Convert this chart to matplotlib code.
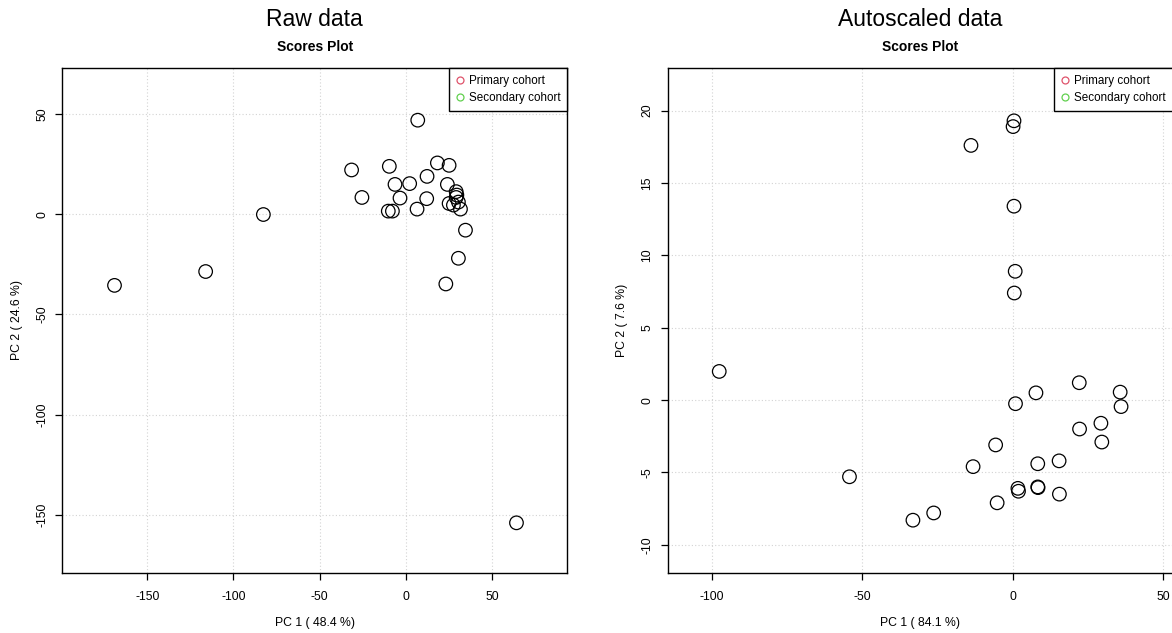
import matplotlib
matplotlib.use("Agg")
import matplotlib.pyplot as plt
from matplotlib.lines import Line2D

plt.rcParams['font.family'] = ['Liberation Sans', 'DejaVu Sans']

# ---- data: Raw data PCA scores ----
raw_pc1 = [-169.0, -116.1, -82.6, 7.0, -31.4, -9.5, 18.4, 25.2, 12.4, -6.2, 2.3,
           24.2, -25.4, -3.3, 12.2, 29.3, 29.7, 29.3, 30.6, 25.2, 27.7, 31.8,
           -10.1, -7.7, 6.6, 34.7, 30.6, 23.3, 64.3]
raw_pc2 = [-35.5, -28.6, -0.2, 46.8, 22.0, 23.8, 25.5, 24.3, 18.8, 14.8, 15.2,
           14.8, 8.3, 8.0, 7.7, 11.2, 9.5, 8.3, 6.0, 5.3, 4.5, 2.5,
           1.5, 1.5, 2.5, -8.0, -22.0, -34.8, -153.8]

# ---- data: Autoscaled PCA scores ----
auto_pc1 = [0.4, 0.1, -13.9, 0.4, 0.8, 0.5, -97.6, -54.3, -33.2, -26.3, -13.2,
            -5.7, -5.2, 0.9, 7.7, 1.7, 1.9, 8.3, 8.3, 8.4, 15.4, 15.5, 22.1,
            22.2, 29.3, 29.6, 35.7, 36.0]
auto_pc2 = [19.3, 18.9, 17.6, 13.4, 8.9, 7.4, 1.98, -5.3, -8.3, -7.8, -4.6,
            -3.1, -7.1, -0.25, 0.5, -6.1, -6.3, -4.4, -6.0, -6.05, -4.2, -6.5, 1.2,
            -2.0, -1.6, -2.9, 0.55, -0.45]

raw_xticks = [-150, -100, -50, 0, 50]
raw_yticks = [50, 0, -50, -100, -150]
auto_xticks = [-100, -50, 0, 50]
auto_yticks = [20, 15, 10, 5, 0, -5, -10]

legend_labels = ["Primary cohort", "Secondary cohort"]
legend_colors = ["#DF536B", "#61D04F"]

W, H = 1172, 633
fig = plt.figure(figsize=(W / 100, H / 100), dpi=100)


def make_axes(x0, x1, y0, y1):
    return fig.add_axes([x0 / W, 1 - y1 / H, (x1 - x0) / W, (y1 - y0) / H])


def style(ax, xs, ys, xt, yt, xlim, ylim, xlabel, ylabel, title, subtitle,
          cx, ylab_x):
    ax.set_xlim(*xlim)
    ax.set_ylim(*ylim)
    ax.set_xticks(xt)
    ax.set_yticks(yt)
    ax.set_xticklabels([str(v) for v in xt])
    ax.set_yticklabels([str(v) for v in yt], rotation=90, va='center')
    ax.grid(True, color='#d3d3d3', linestyle=(0, (1, 2)), linewidth=0.8)
    ax.set_axisbelow(True)
    ax.tick_params(direction='out', length=5, width=0.9, labelsize=8.8,
                   colors='black', pad=8)
    ax.tick_params(axis='y', pad=5)
    for s in ax.spines.values():
        s.set_linewidth(1.0)
    ax.scatter(xs, ys, s=95, facecolors='none', edgecolors='black',
               linewidths=0.9, zorder=3)
    ax.set_xlabel(xlabel, fontsize=8.8, va='center')
    ax.xaxis.set_label_coords(0.5, (573 - 623) / 505)
    ax.set_ylabel(ylabel, fontsize=8.8, va='center')
    ax.yaxis.set_label_coords(ylab_x, 0.5)
    handles = [Line2D([], [], marker='o', linestyle='none', markersize=5,
                      markerfacecolor='none', markeredgecolor=c,
                      markeredgewidth=0.9) for c in legend_colors]
    leg = ax.legend(handles, legend_labels, loc='upper right', fontsize=8.4,
                    frameon=True, fancybox=False, borderaxespad=0,
                    handlelength=0.7, handletextpad=0.4, borderpad=0.6,
                    labelspacing=0.45, framealpha=1)
    leg.get_frame().set_edgecolor('black')
    leg.get_frame().set_linewidth(1.0)
    fig.text(cx / W, 1 - 20 / H, title, ha='center', va='center', fontsize=16.5)
    fig.text(cx / W, 1 - 47 / H, subtitle, ha='center', va='center',
             fontsize=10, fontweight='bold')


ax1 = make_axes(62.3, 567.3, 68, 573)
style(ax1, raw_pc1, raw_pc2, raw_xticks, raw_yticks, (-199.3, 93.8),
      (-178.8, 72.8), "PC 1 ( 48.4 %)", "PC 2 ( 24.6 %)", "Raw data",
      "Scores Plot", 314.8, (17 - 62.3) / 505)

ax2 = make_axes(667.5, 1172.5, 68, 573)
style(ax2, auto_pc1, auto_pc2, auto_xticks, auto_yticks, (-114.8, 53.1),
      (-11.95, 22.95), "PC 1 ( 84.1 %)", "PC 2 ( 7.6 %)", "Autoscaled data",
      "Scores Plot", 920.0, (622 - 667.5) / 505)

fig.savefig("out.png", dpi=100)
